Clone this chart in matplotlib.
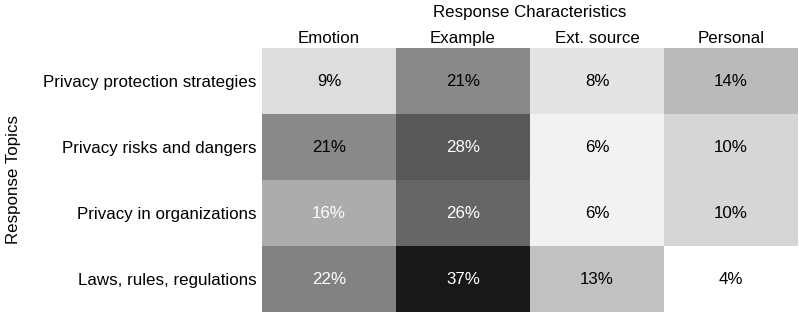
import matplotlib.pyplot as plt
import numpy as np

plt.rcParams['font.family'] = ['Liberation Sans', 'DejaVu Sans']

# Heatmap data (percent of responses)
topics = ["Privacy protection strategies", "Privacy risks and dangers",
          "Privacy in organizations", "Laws, rules, regulations"]
characteristics = ["Emotion", "Example", "Ext. source", "Personal"]
values = np.array([
    [9, 21, 8, 14],
    [21, 28, 6, 10],
    [16, 26, 6, 10],
    [22, 37, 13, 4],
])

# text colour per cell as in the original (not strictly threshold based)
text_colors = [
    ["black", "black", "black", "black"],
    ["black", "white", "black", "black"],
    ["white", "white", "black", "black"],
    ["white", "white", "black", "black"],
]

fs = 12.2

fig = plt.figure(figsize=(7.99, 3.12), dpi=100)
ax = fig.add_axes([262 / 799, 0, 536 / 799, 264 / 312])

ax.imshow(values, cmap='gray_r', vmin=4, vmax=40.7, aspect='auto')

for i in range(values.shape[0]):
    for j in range(values.shape[1]):
        ax.text(j, i, f"{values[i, j]}%", ha='center', va='center',
                fontsize=fs, color=text_colors[i][j])

ax.xaxis.tick_top()
ax.xaxis.set_label_position('top')
ax.set_xticks(range(len(characteristics)))
ax.set_xticklabels(characteristics, fontsize=fs)
ax.set_yticks(range(len(topics)))
ax.set_yticklabels(topics, fontsize=fs)
ax.tick_params(axis='x', length=0, pad=1.5)
ax.set_xlabel("Response Characteristics", fontsize=fs, labelpad=10)
ax.tick_params(axis='y', length=0, pad=4)
ax.set_ylabel("Response Topics", fontsize=fs, labelpad=16)

for s in ax.spines.values():
    s.set_visible(False)

plt.savefig('out.png', dpi=100)
